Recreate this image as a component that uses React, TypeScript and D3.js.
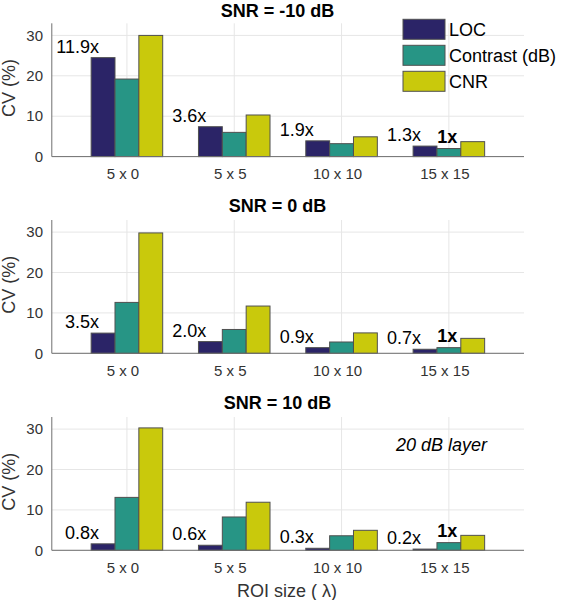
import React from "react";
import * as d3 from "d3";

const categories = ["5 x 0", "5 x 5", "10 x 10", "15 x 15"];
const seriesNames = ["LOC", "Contrast (dB)", "CNR"];
const seriesColors = ["#2b2467", "#279585", "#c9c90c"];
const panelTitles = ["SNR = -10 dB", "SNR = 0 dB", "SNR = 10 dB"];

const locM10 = [24.5, 7.4, 3.9, 2.6];
const contrastM10 = [19.2, 6.0, 3.2, 2.0];
const cnrM10 = [30.0, 10.3, 4.9, 3.7];

const loc0 = [5.0, 2.9, 1.4, 1.0];
const contrast0 = [12.6, 5.9, 2.8, 1.4];
const cnr0 = [29.8, 11.7, 5.05, 3.7];

const loc10 = [1.6, 1.25, 0.5, 0.3];
const contrast10 = [13.1, 8.25, 3.6, 1.9];
const cnr10 = [30.3, 11.9, 4.95, 3.7];

const ratiosM10 = ["11.9x", "3.6x", "1.9x", "1.3x"];
const ratios0 = ["3.5x", "2.0x", "0.9x", "0.7x"];
const ratios10 = ["0.8x", "0.6x", "0.3x", "0.2x"];

const yTicks = [0, 10, 20, 30];
const refLabel = "1x";
const noteText = "20 dB layer";
const xLabel = "ROI size ( \u03bb)";
const yLabel = "CV (%)";

const panels = [
  { title: panelTitles[0], series: [locM10, contrastM10, cnrM10], ratios: ratiosM10 },
  { title: panelTitles[1], series: [loc0, contrast0, cnr0], ratios: ratios0 },
  { title: panelTitles[2], series: [loc10, contrast10, cnr10], ratios: ratios10 },
];

const FONT = "'Liberation Sans', Arial, Helvetica, sans-serif";
const W = 561;
const H = 600;
const axLeft = 51.8;
const axRight = 524;
const panelTops = [23.3, 220, 417];
const panelH = 133.3;

export default function App() {
  const x = d3.scaleLinear().domain([0.3, 4.7]).range([axLeft, axRight]);
  const unit = x(1) - x(0);
  const groupW = unit * (2 / 3);
  const sub = d3.scaleBand<string>().domain(seriesNames).range([-groupW / 2, groupW / 2]).padding(0);

  return (
    <svg
      width={W}
      height={H}
      style={{ position: "absolute", left: 0, top: 0, display: "block", background: "#fff" }}
      fontFamily={FONT}
    >
      <rect x={0} y={0} width={W} height={H} fill="#fff" />
      {panels.map((p, pi) => {
        const top = panelTops[pi];
        const y = d3.scaleLinear().domain([0, 33]).range([top + panelH, top]);
        const zero = y(0);
        return (
          <g key={pi}>
            {yTicks.map((t) => (
              <line key={"gy" + t} x1={axLeft} x2={axRight} y1={y(t)} y2={y(t)} stroke="#e6e6e6" strokeWidth={1} />
            ))}
            {categories.map((c, i) => (
              <line key={"gx" + c} x1={x(i + 1)} x2={x(i + 1)} y1={top} y2={zero} stroke="#e6e6e6" strokeWidth={1} />
            ))}
            {p.series.map((vals, si) =>
              vals.map((v, i) => (
                <rect
                  key={"b" + si + "-" + i}
                  x={x(i + 1) + (sub(seriesNames[si]) as number)}
                  y={y(v)}
                  width={sub.bandwidth()}
                  height={zero - y(v)}
                  fill={seriesColors[si]}
                  stroke="#505050"
                  strokeWidth={1}
                />
              ))
            )}
            <line x1={axLeft} x2={axLeft} y1={top} y2={zero} stroke="#707070" strokeWidth={1} />
            <line x1={axLeft} x2={axRight} y1={zero} y2={zero} stroke="#707070" strokeWidth={1} />
            {yTicks.map((t) => (
              <text key={"yt" + t} x={43} y={y(t)} dy="0.35em" textAnchor="end" fontSize={15} fill="#333">
                {t}
              </text>
            ))}
            {categories.map((c, i) => (
              <text key={"xt" + c} x={x(i + 1) - 4} y={zero + 22.8} textAnchor="middle" fontSize={15} fill="#333">
                {c}
              </text>
            ))}
            {p.ratios.map((r, i) => (
              <text
                key={"r" + i}
                x={x(i + 1) - 0.26 * unit}
                y={y(p.series[0][i]) - 5}
                textAnchor="end"
                fontSize={18}
                fill="#000"
              >
                {r}
              </text>
            ))}
            <text
              x={x(4) - 1.5}
              y={y(p.series[1][3]) - 5.6}
              textAnchor="middle"
              fontSize={18}
              fontWeight="bold"
              fill="#000"
            >
              {refLabel}
            </text>
            <text
              x={277.5}
              y={Math.max(top - 8.5, 16.5)}
              textAnchor="middle"
              fontSize={18}
              fontWeight="bold"
              fill="#000"
            >
              {p.title}
            </text>
            <text
              transform={`translate(14.5, ${top + panelH / 2 - 2}) rotate(-90)`}
              textAnchor="middle"
              fontSize={18}
              fill="#333"
            >
              {yLabel}
            </text>
          </g>
        );
      })}
      {seriesNames.map((s, i) => (
        <g key={"lg" + s}>
          <rect x={403} y={19.3 + i * 26} width={42} height={20} fill={seriesColors[i]} stroke="#505050" strokeWidth={1} />
          <text x={449} y={29.3 + i * 26} dy="0.35em" fontSize={18} fill="#000">
            {s}
          </text>
        </g>
      ))}
      <text x={396} y={451} fontSize={18} fontStyle="italic" fill="#000">
        {noteText}
      </text>
      <text x={287} y={597} textAnchor="middle" fontSize={18} fill="#333">
        {xLabel}
      </text>
    </svg>
  );
}
